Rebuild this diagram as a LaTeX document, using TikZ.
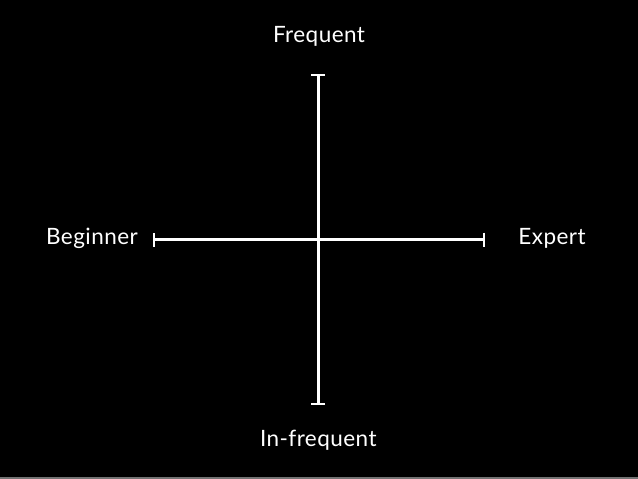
\documentclass[tikz,border=0pt]{standalone}
\usepackage{fontspec}
\setmainfont{Lato}[LetterSpace=2]
\usetikzlibrary{arrows.meta}

\begin{document}
\begin{tikzpicture}[x=1pt,y=-1pt,font=\fontsize{22.5}{26}\selectfont,
  axislabel/.style={text=white,inner sep=0pt,anchor=base},
  axisline/.style={white,line width=3pt,
    {Bar[width=14pt,line width=2.4pt]}-{Bar[width=14pt,line width=2.4pt]}}]
  \fill[black] (0,0) rectangle (638,479);
  \useasboundingbox (0,0) rectangle (638,479);
  \fill[black!55] (0,477) rectangle (638,479);
  \coordinate (top) at (318,74);
  \coordinate (bottom) at (318,405);
  \coordinate (left) at (153,239.5);
  \coordinate (right) at (485,239.5);
  \draw[axisline] (bottom) -- (top);
  \draw[axisline] (left) -- (right);
  \node[axislabel] (frequent) at (319,42.3) {Frequent};
  \node[axislabel] (beginner) at (92,244.7) {Beginner};
  \node[axislabel] (expert) at (552,244.7) {Expert};
  \node[axislabel] (infrequent) at (318.3,446.3) {In-frequent};
\end{tikzpicture}
\end{document}
